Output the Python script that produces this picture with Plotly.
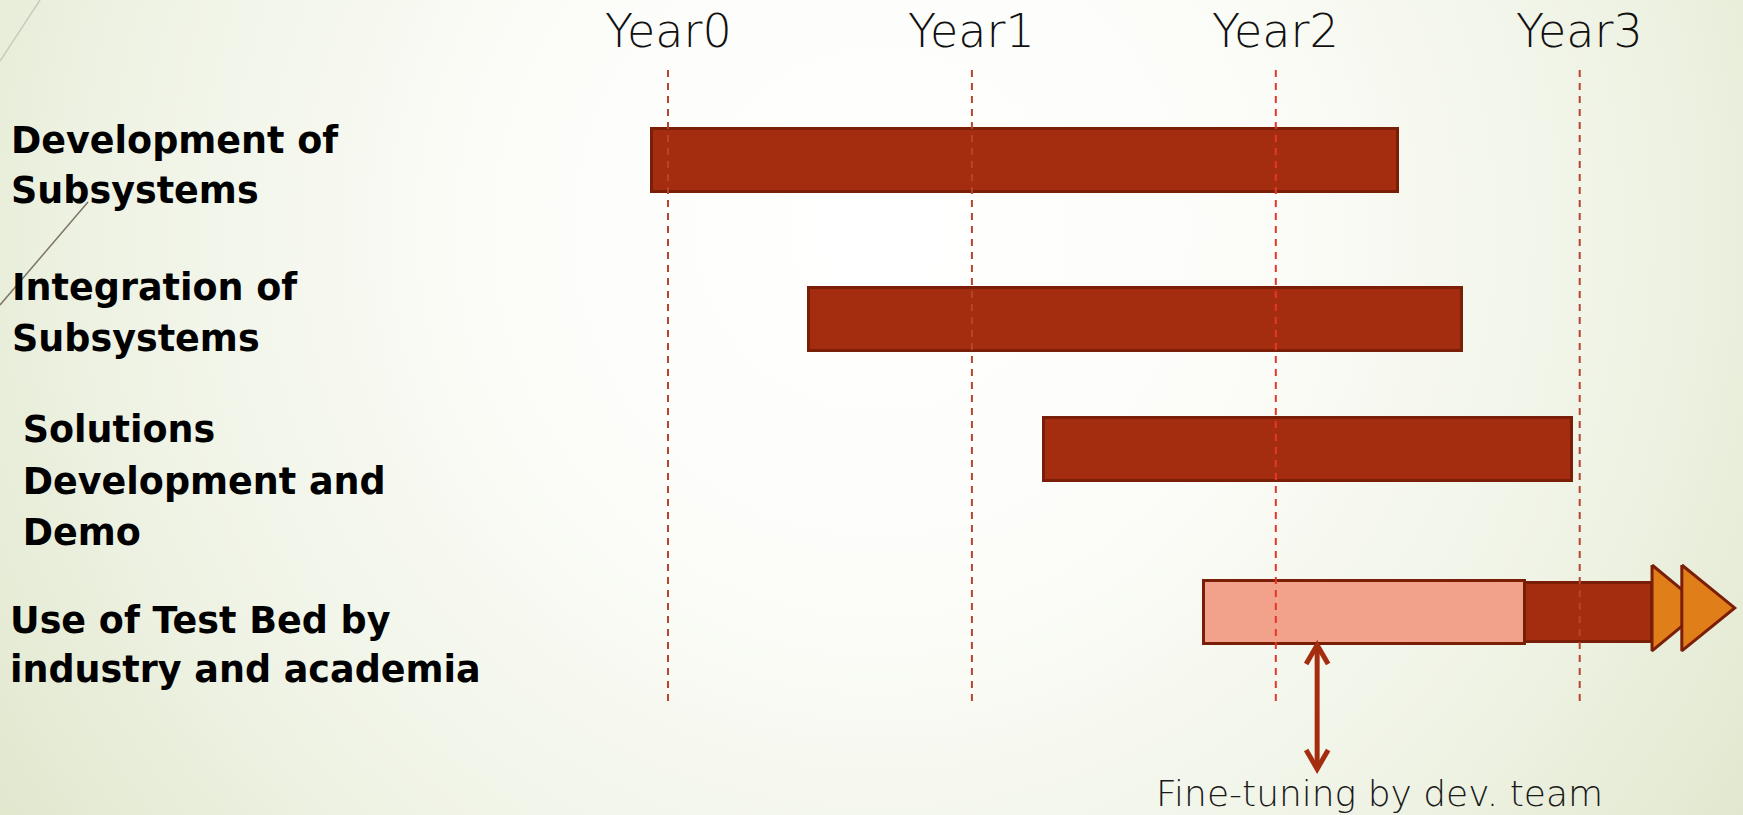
import base64
import plotly.graph_objects as go

# ---------------- data ----------------
task_lines = [
    ["Development of", "Subsystems"],
    ["Integration of", "Subsystems"],
    [" Solutions", " Development and", " Demo"],
    ["Use of Test Bed by", "industry and academia"],
]
task_start = [-0.053, 0.464, 1.237, 1.764]      # in years
task_end = [2.402, 2.613, 2.975, 2.820]         # in years
ongoing_start = [2.820]                          # test-bed use continues
ongoing_end = [3.238]
continue_arrows = [[3.238, 3.409], [3.336, 3.510]]
year_labels = ["Year0", "Year1", "Year2", "Year3"]
year_values = [0, 1, 2, 3]
finetune_at = [2.136]
finetune_text = "Fine-tuning by dev. team"

# ---------------- layout constants ----------------
W, H = 1743, 815
row_y = [0, 1.055, 1.915, 3.0]
bar_h = 0.418
X_RANGE = [-2.1981, 3.5373]
Y_RANGE = [4.3442, -1.0652]
DARK = "#A52D0F"
EDGE = "#7A1E07"
LIGHT = "#F2A18A"
ORANGE = "#E07F1A"

def py(px):
    """pixel row (from top) -> paper y"""
    return 1 - px / H

def ry(px):
    return (px - 160.5) / 150.67

fig = go.Figure()

# background gradient
svg = f'''<svg xmlns="http://www.w3.org/2000/svg" width="{W}" height="{H}">
<defs><radialGradient id="g" gradientUnits="userSpaceOnUse" cx="880" cy="230" r="1050">
<stop offset="0" stop-color="#FFFFFF"/><stop offset="0.35" stop-color="#FCFDF9"/>
<stop offset="0.75" stop-color="#EEF2E3"/><stop offset="1" stop-color="#E1E8CE"/>
</radialGradient></defs><rect width="{W}" height="{H}" fill="url(#g)"/></svg>'''
src = "data:image/svg+xml;base64," + base64.b64encode(svg.encode()).decode()
fig.add_layout_image(dict(source=src, xref="paper", yref="paper", x=0, y=1,
                          sizex=1, sizey=1, sizing="stretch", layer="below"))

# first three task bars
fig.add_trace(go.Bar(
    y=row_y[:3], base=task_start[:3],
    x=[e - s for s, e in zip(task_start[:3], task_end[:3])],
    orientation="h", width=bar_h,
    marker=dict(color=DARK, line=dict(color=EDGE, width=3)),
    showlegend=False, hoverinfo="skip"))

# year dashed lines
for v in year_values:
    col = "#E8352A" if v == 2 else "#B5452E"
    fig.add_trace(go.Scatter(x=[v, v], y=[ry(70), ry(707)], mode="lines",
                             line=dict(color=col, width=2, dash="7px,6px"),
                             showlegend=False, hoverinfo="skip"))

# last task: dev-team fine-tuning part + ongoing use part
fig.add_trace(go.Bar(
    y=[row_y[3]], base=[task_start[3]], x=[task_end[3] - task_start[3]],
    orientation="h", width=bar_h,
    marker=dict(color=LIGHT, line=dict(color=EDGE, width=3)),
    showlegend=False, hoverinfo="skip"))
fig.add_trace(go.Bar(
    y=[row_y[3]], base=ongoing_start, x=[ongoing_end[0] - ongoing_start[0]],
    orientation="h", width=bar_h * 0.93,
    marker=dict(color=DARK, line=dict(color=EDGE, width=3)),
    showlegend=False, hoverinfo="skip"))

# continuation arrowheads
tri_half = 0.285
for b, t in continue_arrows:
    yc = row_y[3] - 0.03
    fig.add_trace(go.Scatter(
        x=[b, b, t, b], y=[yc - tri_half, yc + tri_half, yc, yc - tri_half],
        mode="lines", fill="toself", fillcolor=ORANGE,
        line=dict(color=EDGE, width=3), showlegend=False, hoverinfo="skip"))

# fine-tuning double arrow
a = finetune_at[0]
top, bot = ry(645), ry(769)
dx, dy = 11 / 303.9, 19 / 150.67
arrow_kw = dict(mode="lines", line=dict(color=DARK, width=5),
                showlegend=False, hoverinfo="skip")
fig.add_trace(go.Scatter(x=[a, a], y=[top + 0.01, bot - 0.01], **arrow_kw))
fig.add_trace(go.Scatter(x=[a - dx, a, a + dx], y=[top + dy, top, top + dy], **arrow_kw))
fig.add_trace(go.Scatter(x=[a - dx, a, a + dx], y=[bot - dy, bot, bot - dy], **arrow_kw))

# year labels
for lab, v in zip(year_labels, year_values):
    fig.add_annotation(x=v, y=py(31), xref="x", yref="paper", text=lab,
                       showarrow=False, xanchor="center", yanchor="middle",
                       font=dict(family="DejaVu Sans", size=46, color="#111111", weight=200))

# task labels (one annotation per line)
label_x = [9, 10, 8, 8]
label_caps = [[140, 190], [288, 338], [430, 481, 532], [620, 669]]
for lines, lx, caps in zip(task_lines, label_x, label_caps):
    for txt, cy in zip(lines, caps):
        fig.add_annotation(x=lx / W, y=py(cy), xref="paper", yref="paper",
                           text=txt.replace(" ", "&nbsp;") if txt.startswith(" ") else txt,
                           showarrow=False, xanchor="left", yanchor="middle",
                           font=dict(family="DejaVu Sans", size=36.5, color="#000000", weight="bold"))

fig.add_annotation(x=1154 / W, y=py(793), xref="paper", yref="paper", text=finetune_text,
                   showarrow=False, xanchor="left", yanchor="middle",
                   font=dict(family="DejaVu Sans", size=36, color="#1a1a1a", weight=200))

# decorative theme lines
fig.add_shape(type="line", xref="paper", yref="paper", x0=0, y0=py(61), x1=40 / W, y1=py(0),
              line=dict(color="#C9CABF", width=1.5))
fig.add_shape(type="line", xref="paper", yref="paper", x0=0, y0=py(305), x1=88 / W, y1=py(202),
              line=dict(color="#7D7565", width=1.5))

fig.update_layout(
    width=W, height=H, margin=dict(l=0, r=0, t=0, b=0),
    paper_bgcolor="#F4F7EC", plot_bgcolor="rgba(0,0,0,0)",
    barmode="overlay", bargap=0,
    xaxis=dict(range=X_RANGE, visible=False, fixedrange=True),
    yaxis=dict(range=Y_RANGE, visible=False, fixedrange=True),
)
fig.write_html("out.html")
